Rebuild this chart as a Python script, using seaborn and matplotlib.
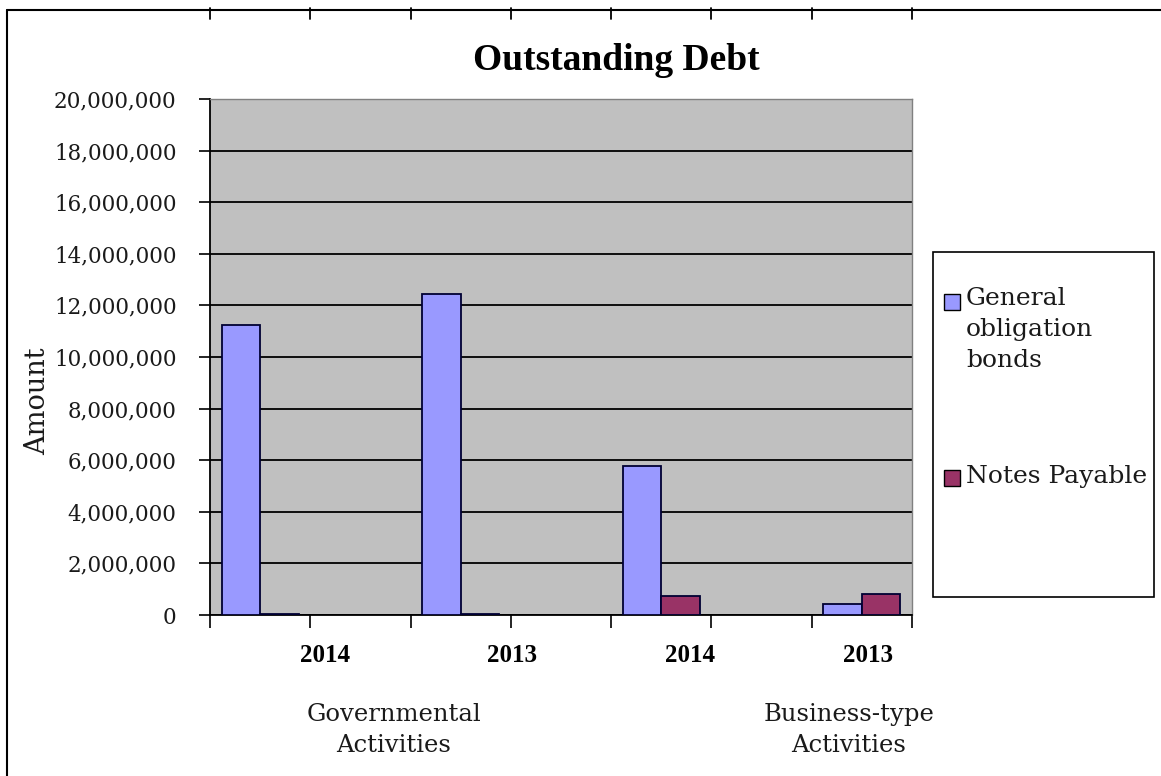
import matplotlib
matplotlib.use("Agg")
import matplotlib.pyplot as plt
from matplotlib.patches import Rectangle
from matplotlib.lines import Line2D
from matplotlib.ticker import FuncFormatter, FixedLocator
import seaborn as sns
import pandas as pd

# ---- data ----
years = ["2014", "2013", "2014", "2013"]
activity_groups = ["Governmental\nActivities", "Business-type\nActivities"]
series_names = ["General obligation bonds", "Notes Payable"]
general_obligation_bonds = [11250000, 12430000, 5760000, 420000]
notes_payable = [50000, 50000, 745000, 810000]
slot_order = ["G2014", "gap1", "G2013", "gap2", "B2014", "gap3", "B2013"]
bar_slots = ["G2014", "G2013", "B2014", "B2013"]
y_ticks = list(range(0, 20000001, 2000000))

colors = {"General obligation bonds": "#9999FF", "Notes Payable": "#993366"}

df = pd.DataFrame({
    "slot": bar_slots * 2,
    "series": [series_names[0]] * 4 + [series_names[1]] * 4,
    "value": general_obligation_bonds + notes_payable,
})

sns.set_theme(style="white")
plt.rcParams["font.family"] = ["DejaVu Serif"]

fig = plt.figure(figsize=(11.61, 7.76), dpi=100)
ax = fig.add_axes([210 / 1161, 1 - 615 / 776, 702 / 1161, 516 / 776])
ax.set_facecolor("#C0C0C0")

sns.barplot(data=df, x="slot", y="value", hue="series", order=slot_order,
            hue_order=series_names, palette=colors, width=0.77, dodge=True,
            edgecolor="#000033", linewidth=1.3, saturation=1, ax=ax,
            legend=False, zorder=3)

ax.set_xlim(-0.5, 6.5)
ax.set_ylim(0, 20000000)
ax.yaxis.set_major_locator(FixedLocator(y_ticks))
ax.yaxis.set_major_formatter(FuncFormatter(lambda v, p: f"{int(v):,}"))
ax.grid(axis="y", color="black", linewidth=1.3, zorder=1)
ax.set_axisbelow(True)

# x ticks at slot boundaries
ax.set_xticks([i - 0.5 for i in range(8)])
ax.set_xticklabels([])
ax.tick_params(axis="x", bottom=True, length=9, width=1.2, color="black", direction="out")
ax.tick_params(axis="y", left=True, length=8, width=1.2, color="black", direction="out",
               labelsize=15.5, pad=16, labelcolor="#1a1a1a")
ax.set_xlabel("")
ax.set_ylabel("Amount", fontsize=19.5, color="#1a1a1a")
ax.yaxis.set_label_coords(-0.226, 0.415)

for side in ["left", "bottom"]:
    ax.spines[side].set_color("black")
    ax.spines[side].set_linewidth(1.3)
for side in ["top", "right"]:
    ax.spines[side].set_color("#808080")
    ax.spines[side].set_linewidth(1.0)

# year labels
year_x = [0.647, 2.51, 4.286, 6.06]
for yx, yr in zip(year_x, years):
    ax.text(yx, -0.078, yr, transform=ax.get_xaxis_transform(), ha="center", va="center",
            fontsize=18, fontweight="bold", family="Liberation Serif", color="black")

# group labels
group_px = [394, 849]
for gx, gl in zip(group_px, activity_groups):
    fig.text(gx / 1161, 1 - 730 / 776, gl, ha="center", va="center", fontsize=17.5,
             color="#1a1a1a", linespacing=1.4)

# title
fig.text(616 / 1161, 1 - 61 / 776, "Outstanding Debt", ha="center", va="center",
         fontsize=27, fontweight="bold", family="Liberation Serif", color="black")

# legend box (drawn manually)
fig.add_artist(Rectangle((933 / 1161, 1 - 597 / 776), 221 / 1161, 345 / 776,
                         transform=fig.transFigure, facecolor="white", edgecolor="black",
                         linewidth=1.2))
leg_items = [("General\nobligation\nbonds", colors[series_names[0]], 302, 300),
             ("Notes Payable", colors[series_names[1]], 478, 478)]
for lab, col, sq_y, txt_y in leg_items:
    fig.add_artist(Rectangle((944 / 1161, 1 - (sq_y + 8) / 776), 16 / 1161, 16 / 776,
                             transform=fig.transFigure, facecolor=col, edgecolor="black",
                             linewidth=1.0))
    fig.text(966 / 1161, 1 - (txt_y - 13) / 776, lab, ha="left", va="top", fontsize=18,
             color="#1a1a1a", linespacing=1.45)

# outer frame: left and top border with tick marks on top
fig.add_artist(Line2D([7 / 1161, 7 / 1161], [0, 1 - 10 / 776], transform=fig.transFigure,
                      color="black", linewidth=1.5))
fig.add_artist(Line2D([7 / 1161, 1], [1 - 10 / 776, 1 - 10 / 776], transform=fig.transFigure,
                      color="black", linewidth=1.5))
for i in range(8):
    xf = (210 + i * 702 / 7) / 1161
    fig.add_artist(Line2D([xf, xf], [1 - 8 / 776, 1 - 19 / 776], transform=fig.transFigure,
                          color="black", linewidth=1.3))

fig.savefig("out.png", dpi=100, facecolor="white")
